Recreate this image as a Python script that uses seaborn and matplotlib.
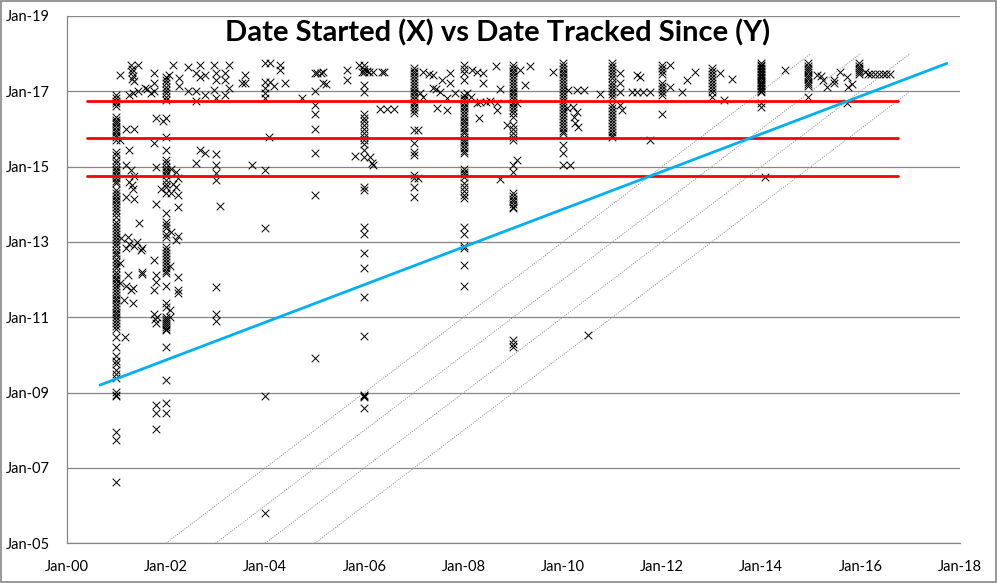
import numpy as np
import pandas as pd
import matplotlib
matplotlib.use("Agg")
import matplotlib.pyplot as plt
from matplotlib.patches import Rectangle
import seaborn as sns

# ---------------- data (years since Jan-2000) ----------------
x_ticks = [0, 2, 4, 6, 8, 10, 12, 14, 16, 18]
x_labels = ["Jan-00", "Jan-02", "Jan-04", "Jan-06", "Jan-08", "Jan-10",
            "Jan-12", "Jan-14", "Jan-16", "Jan-18"]
y_ticks = [5, 7, 9, 11, 13, 15, 17, 19]
y_labels = ["Jan-05", "Jan-07", "Jan-09", "Jan-11", "Jan-13", "Jan-15",
            "Jan-17", "Jan-19"]

col_x = [1.0, 2.0, 3.0, 4.0, 5.0, 6.0, 7.0, 8.0, 9.0, 10.0, 11.0, 12.0, 13.0, 14.0, 14.95, 15.97]
col_2001 = [16.9, 16.82, 16.75, 16.68, 16.62, 16.33, 16.25, 16.18, 16.12, 16.05, 15.98, 15.92,
            15.85, 15.78, 15.72, 15.4, 15.3, 15.18, 15.1, 15.0, 14.92, 14.85, 14.78, 14.7,
            14.62, 14.56, 14.38, 14.3, 14.22, 14.15, 14.08, 14.0, 13.92, 13.85, 13.76, 13.67,
            13.54, 13.45, 13.36, 13.28, 13.2, 13.12, 13.04, 12.96, 12.88, 12.8, 12.72, 12.65,
            12.56, 12.48, 12.4, 12.3, 12.2, 12.12, 12.05, 11.98, 11.9, 11.82, 11.75, 11.68,
            11.6, 11.52, 11.45, 11.38, 11.3, 11.22, 11.15, 11.08, 11.0, 10.92, 10.84, 10.76,
            10.68, 10.49, 10.22, 9.96, 9.85, 9.75, 9.6, 9.5, 9.38, 9.03, 8.95, 8.9, 7.96,
            7.74, 6.64]
col_2002 = [17.39, 17.3, 17.21, 17.12, 17.04, 16.95, 16.86, 16.77, 16.28, 15.8, 15.44, 15.18,
            15.1, 15.0, 14.92, 14.85, 14.78, 14.64, 14.55, 14.47, 14.29, 13.76, 13.54, 13.45,
            13.36, 13.22, 13.14, 12.87, 12.8, 12.72, 12.64, 12.56, 12.48, 12.4, 12.32, 12.24,
            12.17, 11.82, 11.37, 11.28, 11.0, 10.95, 10.9, 10.85, 10.8, 10.75, 10.7, 10.66,
            10.22, 9.34, 8.72, 8.45]
col_2003 = [17.48, 17.3, 16.81, 15.33, 15.04, 14.82, 14.64, 11.81, 11.1, 10.9]
col_2004 = [17.74, 17.25, 17.1, 16.95, 16.81, 14.91, 13.36, 8.92, 5.8]
col_2005 = [17.48, 17.0, 16.64, 16.4, 16.0, 15.35, 14.25, 9.91]
col_2006 = [17.7, 17.6, 17.5, 17.17, 16.99, 16.4, 16.3, 16.2, 16.1, 16.0, 15.9, 15.8, 15.7,
            15.6, 15.44, 15.26, 14.47, 14.38, 13.4, 13.2, 12.7, 12.3, 11.55, 10.5, 8.93,
            8.9, 8.88, 8.58]
col_2007 = [17.61, 17.55, 17.48, 17.4, 17.32, 17.25, 17.18, 17.1, 17.02, 16.95, 16.88, 16.8,
            16.72, 16.65, 16.58, 16.5, 16.42, 15.97, 15.62, 15.4, 15.31, 14.78, 14.69, 14.47,
            14.2]
col_2008 = [17.7, 17.6, 17.48, 17.3, 16.9, 16.83, 16.76, 16.7, 16.62, 16.55, 16.48, 16.4,
            16.32, 16.25, 16.18, 16.1, 16.02, 15.95, 15.88, 15.8, 15.72, 15.65, 15.58, 15.5,
            15.42, 15.35, 14.95, 14.87, 14.8, 14.73, 14.56, 14.45, 14.36, 14.25, 14.16, 13.4,
            13.2, 12.9, 12.83, 12.39, 11.83]
col_2009 = [17.7, 17.62, 17.55, 17.48, 17.4, 17.33, 17.25, 17.18, 17.1, 17.02, 16.95, 16.88,
            16.8, 16.72, 16.65, 16.58, 16.5, 16.42, 16.33, 16.1, 16.0, 15.9, 15.8, 15.71,
            15.04, 14.87, 14.29, 14.22, 14.15, 14.08, 14.0, 13.94, 13.89, 10.4, 10.3, 10.22]
col_2010 = [17.74, 17.67, 17.6, 17.52, 17.45, 17.38, 17.3, 17.22, 17.14, 17.06, 16.98, 16.9,
            16.82, 16.74, 16.66, 16.58, 16.5, 16.42, 16.34, 16.26, 16.18, 16.1, 16.02, 15.94,
            15.88, 15.57, 15.35, 15.04]
col_2011 = [17.74, 17.66, 17.58, 17.5, 17.42, 17.34, 17.26, 17.18, 17.1, 17.02, 16.94, 16.86,
            16.64, 16.56, 16.48, 16.4, 16.32, 16.24, 16.16, 16.08, 16.0, 15.92, 15.84, 15.8]
col_2012 = [17.7, 17.62, 17.55, 17.47, 17.21, 17.13, 17.05, 16.97, 16.9, 16.4]
col_2013 = [17.61, 17.53, 17.45, 17.37, 17.29, 17.21, 17.13, 17.05, 16.97, 16.86]
col_2014 = [17.74, 17.7, 17.66, 17.62, 17.58, 17.54, 17.5, 17.46, 17.42, 17.38, 17.34, 17.3,
            17.26, 17.22, 17.18, 17.14, 17.1, 17.06, 17.02, 16.99, 16.68, 16.59]
col_2015 = [17.74, 17.68, 17.62, 17.56, 17.5, 17.44, 17.38, 17.32, 17.26, 17.2, 17.14, 16.86]
col_2016 = [17.74, 17.68, 17.62, 17.56, 17.5, 17.45]

# loose points (started, tracked)
pts_top_left = [(1.08, 17.43), (1.3, 17.7), (1.32, 17.6), (1.32, 17.5), (1.33, 17.4),
                (1.31, 17.32), (1.36, 17.28), (1.44, 17.7), (1.26, 16.9), (1.33, 16.95),
                (1.44, 17.0), (1.57, 17.08), (1.7, 16.95), (1.75, 17.48), (1.75, 17.21),
                (1.75, 17.0), (1.62, 17.05), (2.14, 17.7), (2.07, 17.43), (2.27, 17.35),
                (2.27, 17.13), (2.45, 17.65), (2.45, 17.0), (2.6, 17.48), (2.6, 17.0),
                (2.6, 16.73), (2.69, 17.7), (2.69, 17.39), (2.79, 17.43), (2.79, 16.9),
                (2.96, 17.7), (2.96, 17.04), (3.2, 17.48), (3.2, 17.3), (3.2, 16.9),
                (3.27, 17.7), (3.27, 17.08), (3.6, 17.43), (3.6, 17.21), (3.53, 17.21),
                (4.1, 17.74), (4.1, 17.26), (4.17, 17.15), (4.3, 17.7), (4.3, 17.57),
                (4.4, 17.21), (4.75, 16.81), (5.16, 17.21), (5.05, 17.48), (5.12, 17.48)]
pts_mid_left = [(1.2, 16.0), (1.35, 16.0), (1.8, 16.28), (1.95, 16.2), (1.75, 15.62),
                (1.25, 15.44), (1.08, 15.71), (2.69, 15.44), (2.79, 15.35), (2.6, 15.09),
                (3.74, 15.04), (4.08, 15.78), (1.8, 15.0), (2.1, 14.95), (2.2, 14.85),
                (2.25, 14.7), (2.15, 14.55), (2.2, 14.45), (2.1, 14.3), (2.25, 14.25),
                (1.9, 14.4), (1.2, 15.05), (1.3, 14.9), (1.35, 14.75), (1.32, 14.5),
                (1.33, 14.4), (1.2, 14.2), (1.35, 14.15), (1.25, 14.6), (1.8, 14.0),
                (2.24, 13.94), (3.08, 13.95), (1.45, 13.5), (2.1, 13.27), (2.25, 13.15),
                (2.2, 13.05), (1.1, 13.1), (1.25, 12.95), (1.35, 12.9), (1.5, 12.8),
                (1.2, 12.85), (1.75, 12.52), (1.24, 12.12), (1.51, 12.15), (1.81, 12.12),
                (2.25, 12.08)]
pts_low_left = [(1.24, 13.14), (1.41, 13.01), (1.51, 12.83), (1.07, 12.43), (1.51, 12.19),
                (1.07, 11.9), (1.2, 11.82), (1.34, 11.78), (1.3, 11.73), (1.15, 11.46),
                (1.34, 11.37), (1.75, 11.73), (1.81, 11.95), (2.08, 12.35), (2.25, 11.73),
                (2.25, 11.64), (2.08, 11.2), (2.08, 11.0), (1.76, 11.1), (1.78, 10.95),
                (1.8, 10.85), (1.83, 11.0), (1.17, 10.49), (1.81, 8.67), (1.81, 8.45),
                (1.81, 8.03)]
pts_middle = [(5.16, 17.52), (5.23, 17.19), (5.64, 17.57), (5.64, 17.3), (5.9, 17.7),
              (5.95, 17.5), (6.05, 17.55), (6.1, 17.5), (6.18, 17.52), (6.35, 17.5),
              (6.4, 17.5), (5.81, 15.28), (6.11, 15.26), (6.18, 15.04), (6.15, 15.1),
              (6.32, 16.52), (6.45, 16.52), (6.59, 16.52), (7.09, 15.97), (7.09, 14.69),
              (7.19, 17.52), (7.3, 17.45), (7.39, 17.43), (7.12, 16.95), (7.19, 16.86),
              (7.39, 17.08), (7.45, 17.05), (7.53, 16.99), (7.46, 16.55), (7.66, 16.5),
              (7.56, 17.3), (7.73, 17.48), (7.73, 17.21), (7.66, 16.81), (7.83, 16.95),
              (8.16, 17.57), (8.27, 17.52), (8.4, 17.48), (8.4, 17.23), (8.06, 16.95),
              (8.15, 16.85), (8.27, 16.68), (8.33, 16.72), (8.45, 16.72), (8.53, 16.75),
              (8.32, 16.3), (8.66, 17.68), (8.74, 17.05), (8.67, 16.68), (8.67, 16.5),
              (8.74, 14.66), (9.07, 15.18), (8.87, 16.1), (9.14, 17.57), (9.24, 17.17),
              (9.33, 17.68), (9.07, 16.68), (9.81, 17.52), (10.15, 15.04), (10.1, 17.04),
              (10.2, 16.59), (10.28, 16.46), (10.22, 16.33), (10.25, 16.15), (10.3, 16.05)]
pts_right = [(10.28, 17.04), (10.42, 17.04), (10.08, 16.55), (10.74, 16.92), (11.16, 17.48),
             (11.16, 17.21), (11.16, 16.99), (11.16, 16.64), (11.2, 16.5), (11.39, 16.99),
             (11.5, 16.99), (11.62, 16.99), (11.76, 16.99), (11.49, 17.43), (11.56, 17.39),
             (11.75, 15.72), (12.16, 17.7), (12.16, 17.12), (12.41, 16.99), (12.5, 17.3),
             (12.67, 17.5), (13.16, 17.48), (13.24, 16.77), (13.41, 17.32), (14.07, 14.73),
             (14.48, 17.57), (15.12, 17.43), (15.2, 17.4), (15.32, 17.12), (15.25, 17.3),
             (15.46, 17.3), (15.46, 17.21), (15.58, 17.52), (15.72, 17.39), (15.83, 17.2),
             (15.75, 17.12), (15.72, 16.7), (16.1, 17.52), (10.5, 10.52), (16.15, 17.46),
             (16.22, 17.46), (16.3, 17.46), (16.38, 17.46), (16.45, 17.46), (16.52, 17.46),
             (16.6, 17.46)]

# reference lines
red_levels = [14.75, 15.75, 16.75]
red_span = [0.4, 16.75]
trend_x = [0.67, 17.74]
trend_y = [9.2, 17.74]
diag_offsets = [3, 2, 1, 0]
diag_x_start = [2, 3, 4, 5]
diag_x_end = [15, 16, 17, 17]

# ---------------- build table ----------------
cols = [col_2001, col_2002, col_2003, col_2004, col_2005, col_2006, col_2007, col_2008,
        col_2009, col_2010, col_2011, col_2012, col_2013, col_2014, col_2015, col_2016]
xs, ys = [], []
for cx, cy in zip(col_x, cols):
    xs += [cx] * len(cy)
    ys += list(cy)
for group in [pts_top_left, pts_mid_left, pts_low_left, pts_middle, pts_right]:
    for px, py in group:
        xs.append(px)
        ys.append(py)
df = pd.DataFrame({"started": xs, "tracked": ys})

# ---------------- figure ----------------
sns.set_style("white")
plt.rcParams["font.family"] = ["Lato", "DejaVu Sans"]

fig = plt.figure(figsize=(9.97, 5.83), dpi=100)
ax = fig.add_axes([0.0669, 0.0681, 0.8957, 0.9045])

grid_c = "#868686"
for yt in y_ticks:
    ax.axhline(yt, color=grid_c, lw=0.9, zorder=1)

for off, xa, xb in zip(diag_offsets, diag_x_start, diag_x_end):
    ax.plot([xa, xb], [xa + off, xb + off], color="#9a9a9a", lw=0.7,
            linestyle=(0, (1.2, 1.2)), zorder=2)

sns.scatterplot(data=df, x="started", y="tracked", marker="x", color="black",
                s=30, linewidth=0.7, ax=ax, zorder=3, legend=False)

for lv in red_levels:
    ax.plot(red_span, [lv, lv], color="#FF0000", lw=2.0, zorder=4)

ax.plot(trend_x, trend_y, color="#00B0F0", lw=2.0, zorder=5)

ax.set_xlim(0, 18)
ax.set_ylim(5, 19)
ax.set_xticks(x_ticks)
ax.set_xticklabels(x_labels)
ax.set_yticks(y_ticks)
ax.set_yticklabels(y_labels)
ax.set_xlabel("")
ax.set_ylabel("")
ax.tick_params(axis="both", direction="out", length=5, width=0.9, color=grid_c,
               labelsize=10.5, labelcolor="black")
ax.tick_params(axis="y", pad=7)
ax.tick_params(axis="x", pad=7)
for s in ["top", "right"]:
    ax.spines[s].set_visible(False)
for s in ["left", "bottom"]:
    ax.spines[s].set_color(grid_c)
    ax.spines[s].set_linewidth(0.9)

ax.text(0.483, 0.967, "Date Started (X) vs Date Tracked Since (Y)", transform=ax.transAxes,
        ha="center", va="center", fontsize=21, fontweight="bold", color="black", zorder=6)

fig.add_artist(Rectangle((0.0015, 0.002), 0.997, 0.996, transform=fig.transFigure,
                         fill=False, edgecolor=grid_c, lw=1.2))

fig.savefig("out.png", dpi=100)
